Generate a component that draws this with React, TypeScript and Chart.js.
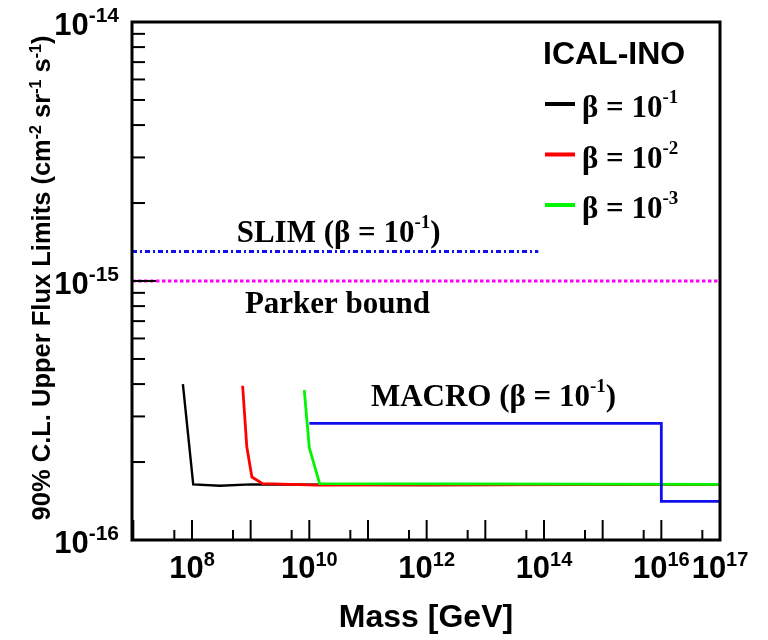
import { useEffect, useRef } from 'react';
import { Chart, registerables } from 'chart.js';
Chart.register(...registerables);

// ---------------- data ----------------
const massBeta1 = [7.0e7, 1.05e8, 3e8, 1e9, 1e12, 1e17];
const fluxBeta1 = [4.0e-16, 1.64e-16, 1.62e-16, 1.64e-16, 1.63e-16, 1.64e-16];
const massBeta2 = [7.3e8, 8.6e8, 1.05e9, 1.6e9, 1.4e10, 1e17];
const fluxBeta2 = [3.94e-16, 2.29e-16, 1.75e-16, 1.65e-16, 1.63e-16, 1.64e-16];
const massBeta3 = [8.2e9, 1.0e10, 1.5e10, 1e17];
const fluxBeta3 = [3.79e-16, 2.27e-16, 1.65e-16, 1.64e-16];
const massMacro = [1e10, 1e16, 1e16, 1e17];
const fluxMacro = [2.82e-16, 2.82e-16, 1.41e-16, 1.41e-16];
const massSlim = [9.5e6, 8e13];
const fluxSlim = [1.3e-15, 1.3e-15];
const massParker = [9.5e6, 1e17];
const fluxParker = [1e-15, 1e-15];

const xMin = 9.5e6;
const xMax = 1e17;
const yMin = 1e-16;
const yMax = 1e-14;

const xMajorTicks = [1e7, 1e8, 1e9, 1e10, 1e11, 1e12, 1e13, 1e14, 1e15, 1e16, 1e17];
const xMinorTicks = [5e7, 5e8, 5e9, 5e10, 5e11, 5e12, 5e13, 5e14, 5e15, 5e16];
const xLabelExps = [8, 10, 12, 14, 16, 17];
const yMajorTicks = [1e-16, 1e-15, 1e-14];
const yMinorTicks = [2e-16, 3e-16, 4e-16, 5e-16, 6e-16, 7e-16, 8e-16, 9e-16,
  2e-15, 3e-15, 4e-15, 5e-15, 6e-15, 7e-15, 8e-15, 9e-15];
const yLabelExps = [-16, -15, -14];

const legendTitle = 'ICAL-INO';
const legendLabels = ['β = 10', 'β = 10', 'β = 10'];
const legendExps = ['-1', '-2', '-3'];

const xTitle = 'Mass [GeV]';
const yTitleParts = ['90% C.L. Upper Flux Limits (cm', '-2', ' sr', '-1', ' s', '-1', ')'];

const annotations = [
  { main: 'SLIM (β = 10', sup: '-1', tail: ')', x: 10 ** 10.5, y: 1.3e-15, dy: -9 },
  { main: 'Parker bound', sup: '', tail: '', x: 10 ** 10.48, y: 1e-15, dy: 32 },
  { main: 'MACRO (β = 10', sup: '-1', tail: ')', x: 10 ** 13.14, y: 2.82e-16, dy: -17 },
];

const SANS = '"Liberation Sans", Arial, sans-serif';
const SERIF = '"Liberation Serif", "Times New Roman", serif';

const pts = (xs: number[], ys: number[]) => xs.map((x, i) => ({ x, y: ys[i] }));

type Part = { text: string; font: string; rise?: number };
function drawRich(ctx: CanvasRenderingContext2D, parts: Part[], x: number, y: number, align: 'left' | 'center' | 'right') {
  let w = 0;
  parts.forEach(p => { ctx.font = p.font; w += ctx.measureText(p.text).width; });
  let cx = align === 'center' ? x - w / 2 : align === 'right' ? x - w : x;
  ctx.textAlign = 'left';
  ctx.textBaseline = 'alphabetic';
  parts.forEach(p => {
    ctx.font = p.font;
    ctx.fillText(p.text, cx, y - (p.rise || 0));
    cx += ctx.measureText(p.text).width;
  });
}

const framePlugin = {
  id: 'rootFrame',
  afterDatasetsDraw(chart: any) {
    const { ctx, chartArea: a, scales } = chart;
    const xs = scales.x;
    const ys = scales.y;
    ctx.save();
    ctx.strokeStyle = '#000';
    ctx.fillStyle = '#000';
    ctx.lineCap = 'butt';
    const seg = (x1: number, y1: number, x2: number, y2: number) => {
      ctx.beginPath(); ctx.moveTo(x1, y1); ctx.lineTo(x2, y2); ctx.stroke();
    };
    ctx.lineWidth = 2;
    xMajorTicks.forEach(v => { const p = xs.getPixelForValue(v); seg(p, a.bottom, p, a.bottom - 20); });
    xMinorTicks.forEach(v => { const p = xs.getPixelForValue(v); seg(p, a.bottom, p, a.bottom - 10); });
    yMajorTicks.forEach(v => { const p = ys.getPixelForValue(v); seg(a.left, p, a.left + 24, p); });
    yMinorTicks.forEach(v => { const p = ys.getPixelForValue(v); seg(a.left, p, a.left + 13, p); });

    ctx.lineWidth = 3;
    ctx.strokeRect(a.left, a.top, a.right - a.left, a.bottom - a.top);

    // x tick labels
    xLabelExps.forEach(e => {
      const p = xs.getPixelForValue(10 ** e);
      drawRich(ctx, [
        { text: '10', font: `bold 31px ${SANS}` },
        { text: String(e), font: `bold 20px ${SANS}`, rise: 12 },
      ], p, a.bottom + 38, 'center');
    });
    // y tick labels
    yLabelExps.forEach(e => {
      const p = ys.getPixelForValue(10 ** e);
      drawRich(ctx, [
        { text: '10', font: `bold 31px ${SANS}` },
        { text: String(e), font: `bold 21px ${SANS}`, rise: 13 },
      ], a.left - 13, p + 13, 'right');
    });

    // axis titles
    drawRich(ctx, [{ text: xTitle, font: `bold 32px ${SANS}` }], (a.left + a.right) / 2, a.bottom + 87, 'center');
    ctx.save();
    ctx.translate(50, (a.top + a.bottom) / 2 - 3);
    ctx.rotate(-Math.PI / 2);
    drawRich(ctx, yTitleParts.map((t, i) => i % 2 === 1
      ? { text: t, font: `bold 16px ${SANS}`, rise: 9 }
      : { text: t, font: `bold 25.5px ${SANS}` }), 0, 0, 'center');
    ctx.restore();

    // annotations
    annotations.forEach(an => {
      const px = xs.getPixelForValue(an.x);
      const py = ys.getPixelForValue(an.y) + an.dy;
      const parts: Part[] = [{ text: an.main, font: `bold 31px ${SERIF}` }];
      if (an.sup) parts.push({ text: an.sup, font: `bold 19px ${SERIF}`, rise: 14 });
      if (an.tail) parts.push({ text: an.tail, font: `bold 31px ${SERIF}` });
      drawRich(ctx, parts, px, py, 'center');
    });

    // legend
    drawRich(ctx, [{ text: legendTitle, font: `bold 32px ${SANS}` }], a.right - 177, a.top + 42, 'left');
    const dsets = chart.data.datasets;
    legendLabels.forEach((lab, i) => {
      const yy = a.top + 82 + i * 50.5;
      ctx.strokeStyle = dsets[i].borderColor;
      ctx.lineWidth = 4;
      seg(a.right - 175, yy, a.right - 145, yy);
      ctx.fillStyle = '#000';
      drawRich(ctx, [
        { text: lab, font: `bold 31px ${SERIF}` },
        { text: legendExps[i], font: `bold 19px ${SERIF}`, rise: 14 },
      ], a.right - 138, yy + 13, 'left');
    });
    ctx.restore();
  },
};

export default function App() {
  const ref = useRef<HTMLCanvasElement>(null);
  useEffect(() => {
    if (!ref.current) return;
    const chart = new Chart(ref.current, {
      type: 'line',
      data: {
        datasets: [
          { data: pts(massBeta1, fluxBeta1), borderColor: '#000000', borderWidth: 2.4, order: 6 },
          { data: pts(massBeta2, fluxBeta2), borderColor: '#ff0000', borderWidth: 2.8, order: 5 },
          { data: pts(massBeta3, fluxBeta3), borderColor: '#00f500', borderWidth: 2.8, order: 4 },
          { data: pts(massSlim, fluxSlim), borderColor: '#1010ee', borderWidth: 3, borderDash: [5, 3, 2, 3], order: 2 },
          { data: pts(massParker, fluxParker), borderColor: '#ff00ff', borderWidth: 3, borderDash: [3.5, 2.5], order: 3 },
          { data: pts(massMacro, fluxMacro), borderColor: '#1010ee', borderWidth: 2.8, order: 1 },
        ] as any,
      },
      options: {
        animation: false,
        responsive: false,
        maintainAspectRatio: false,
        layout: { padding: { left: 132, right: 48, top: 22, bottom: 100 } },
        plugins: { legend: { display: false }, tooltip: { enabled: false } },
        elements: { point: { radius: 0 }, line: { tension: 0, fill: false } },
        scales: {
          x: { type: 'logarithmic', min: xMin, max: xMax, display: false },
          y: { type: 'logarithmic', min: yMin, max: yMax, display: false },
        },
      },
      plugins: [framePlugin],
    });
    return () => chart.destroy();
  }, []);
  return (
    <canvas ref={ref} width={768} height={640}
      style={{ position: 'fixed', left: 0, top: 0, width: 768, height: 640, background: '#fff' }} />
  );
}
